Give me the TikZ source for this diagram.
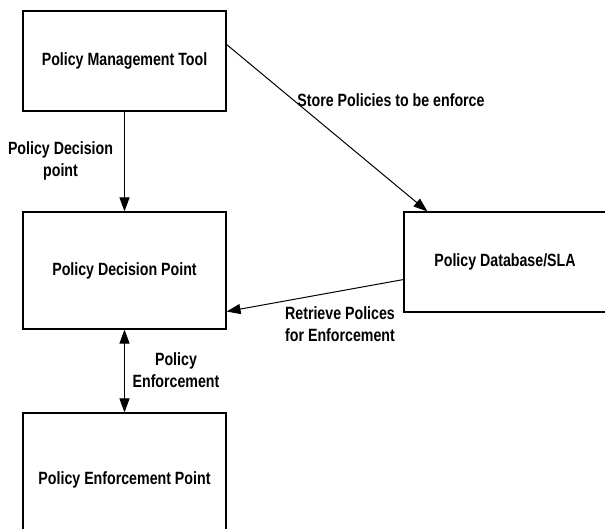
\documentclass[tikz,border=0pt]{standalone}
\usepackage{fontspec}
\usepackage{graphicx}
\setmainfont{Liberation Sans}
\usetikzlibrary{arrows.meta,calc}
\newcommand\vst[1]{\scalebox{1}[1.25]{#1}}
\begin{document}
\begin{tikzpicture}[x=1pt,y=-1pt,
  font=\fontsize{14.2}{21.5}\selectfont\bfseries,
  box/.style={draw=black,line width=1.1pt,fill=white,inner sep=0pt,minimum width=203pt},
  lbl/.style={inner sep=0pt,align=center},
  arr/.style={line width=1pt,-{Triangle[length=14pt,width=10pt]}},
  darr/.style={line width=1pt,{Triangle[length=14pt,width=10pt]}-{Triangle[length=14pt,width=10pt]}}]
\useasboundingbox (0,0) rectangle (605,529);
\node[box,minimum height=100pt] (pmt) at (124.5,61) {\vst{Policy Management Tool}};
\node[box,minimum height=117pt] (pdp) at (124.5,270.5) {\vst{Policy Decision Point}};
\node[box,minimum height=134pt] (pep) at (124.5,480) {\vst{Policy Enforcement Point}};
\node[box,minimum height=100pt,minimum width=202pt] (db) at (505,262) {\vst{Policy Database/SLA}};
\coordinate (s1) at ($(pmt.north east)+(0,34)$);
\coordinate (e1) at ($(db.north west)+(24,0)$);
\coordinate (s2) at ($(db.south west)+(0,-33)$);
\coordinate (e2) at ($(pdp.south east)+(0,-18)$);
\draw[arr] (pmt.south) -- (pdp.north);
\draw[arr] (s1) -- (e1);
\draw[arr] (s2) -- (e2);
\draw[darr] (pdp.south) -- (pep.north);
\node[lbl] (l1) at (60.5,161) {\vst{Policy Decision}\\\vst{point}};
\node[lbl] (l2) at (391,100) {\vst{Store Policies to be enforce}};
\node[lbl] (l3) at (340,324) {\vst{Retrieve Polices}\\\vst{for Enforcement}};
\node[lbl] (l4) at (176,370) {\vst{Policy}\\\vst{Enforcement}};
\end{tikzpicture}
\end{document}
